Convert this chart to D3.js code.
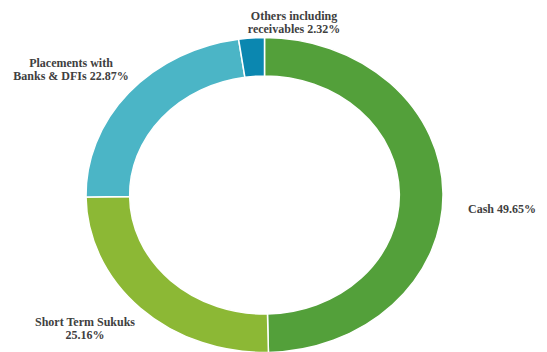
<!DOCTYPE html>
<html lang="en">
<head>
  <meta charset="utf-8">
  <title>Asset allocation</title>
  <script src="https://d3js.org/d3.v7.min.js"></script>
  <style>
    body {
      margin: 0;
      background: #fff;
    }
    text.label {
      font-family: "Liberation Serif", "DejaVu Serif", serif;
      font-weight: bold;
      font-size: 12px;
      fill: #404040;
      text-anchor: middle;
    }
  </style>
</head>
<body>
<svg id="chart" width="547" height="352"></svg>

<script>
  // Données
  const categories = ["Cash", "Short Term Sukuks", "Placements with Banks & DFIs", "Others including receivables"];
  const values = [49.65, 25.16, 22.87, 2.32];
  const labelLines = [
    ["Cash 49.65%"],
    ["Short Term Sukuks", "25.16%"],
    ["Placements with", "Banks & DFIs 22.87%"],
    ["Others including", "receivables 2.32%"]
  ];
  const colors = ["#53a03a", "#8cb835", "#4bb5c6", "#0b87b0"];

  // Mise en page
  const cx = 264.5, cy = 195;
  const outerR = 157.5, innerR = 119;
  const stretch = 178.5 / 157.5; // anneau légèrement ovale

  // position des étiquettes (centre de la première ligne)
  const labelPos = [
    [502, 213],
    [85, 326],
    [71, 67],
    [294, 20]
  ];

  const svg = d3.select("#chart");

  const pie = d3.pie().sort(null).value(d => d.value);
  const arc = d3.arc().innerRadius(innerR).outerRadius(outerR);

  const data = categories.map((c, i) => ({ name: c, value: values[i], i: i }));

  const g = svg.append("g")
    .attr("transform", `translate(${cx},${cy}) scale(${stretch},1)`);

  g.selectAll("path.slice")
    .data(pie(data))
    .enter()
    .append("path")
    .attr("class", "slice")
    .attr("d", arc)
    .attr("fill", d => colors[d.data.i])
    .attr("stroke", "#fff")
    .attr("stroke-width", 1.5)
    .attr("vector-effect", "non-scaling-stroke");

  // Étiquettes
  data.forEach((d, i) => {
    const t = svg.append("text")
      .attr("class", "label")
      .attr("x", labelPos[i][0])
      .attr("y", labelPos[i][1]);
    labelLines[i].forEach((line, j) => {
      t.append("tspan")
        .attr("x", labelPos[i][0])
        .attr("dy", j === 0 ? 0 : 12.5)
        .text(line);
    });
  });
</script>
</body>
</html>
